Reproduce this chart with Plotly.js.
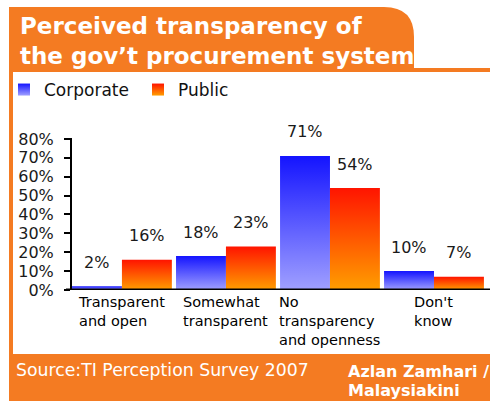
<!DOCTYPE html>
<html><head><meta charset="utf-8">
<script src="https://cdn.plot.ly/plotly-3.0.1.min.js"></script>
<style>html,body{margin:0;padding:0;background:#fff;} #chart{width:490px;height:401px;}</style>
</head><body><div id="chart"></div>
<script>
const categories = ["Transparent<br>and open", "Somewhat<br>transparent", "No<br>transparency<br>and openness", "Don't<br>know"];
const corporate = [2, 18, 71, 10];
const publicShare = [16, 23, 54, 7];
const seriesNames = ["Corporate", "Public"];
const tickValues = [0, 10, 20, 30, 40, 50, 60, 70, 80];
const tickLabels = ["0%", "10%", "20%", "30%", "40%", "50%", "60%", "70%", "80%"];
const titleText = "Perceived transparency of<br>the gov’t procurement system";
const sourceText = "Source:TI Perception Survey 2007";
const creditLines = ["Azlan Zamhari /", "Malaysiakini"];

const L = 72, T = 138, W = 414, H = 152;
const px = x => (x - L) / W;
const py = y => (T + H - y) / H;
const ORANGE = '#f47b22';
const FONT = 'DejaVu Sans, Verdana, sans-serif';
const BARGAP = 0.04;
const half = (1 - BARGAP) / 4;

const traces = [
  {type: 'bar', name: seriesNames[0], x: categories, y: corporate, marker: {color: '#4a4aff', line: {width: 0}}, hoverinfo: 'none'},
  {type: 'bar', name: seriesNames[1], x: categories, y: publicShare, marker: {color: '#ff5a00', line: {width: 0}}, hoverinfo: 'none'}
];

const labelFont = {family: FONT, size: 16, color: '#1a1a1a'};
const annotations = [];
corporate.forEach((v, i) => annotations.push({x: i - half, y: v, xref: 'x', yref: 'y', text: v + '%', showarrow: false, yanchor: 'middle', yshift: 24, font: labelFont}));
publicShare.forEach((v, i) => annotations.push({x: i + half, y: v, xref: 'x', yref: 'y', text: v + '%', showarrow: false, yanchor: 'middle', yshift: 24, font: labelFont}));
categories.forEach((c, i) => annotations.push({x: i, y: 0, xref: 'x', yref: 'y', text: c, showarrow: false, xanchor: 'center', yanchor: 'top', align: 'left', yshift: -2, font: {family: FONT, size: 14.5, color: '#000'}}));
annotations.push({x: px(14), y: py(370), xref: 'paper', yref: 'paper', text: sourceText, showarrow: false, xanchor: 'left', yanchor: 'middle', font: {family: FONT, size: 17.3, color: '#fff'}});
creditLines.forEach((t, i) => annotations.push({x: px(346), y: py(371 + i * 19), xref: 'paper', yref: 'paper', text: t, showarrow: false, xanchor: 'left', yanchor: 'middle', font: {family: FONT, size: 16, color: '#fff', weight: 'bold'}}));

const shapes = [
  {type: 'rect', xref: 'paper', yref: 'paper', x0: px(9), x1: px(500), y0: py(68), y1: py(405), fillcolor: ORANGE, line: {width: 0}, layer: 'below'},
  {type: 'rect', xref: 'paper', yref: 'paper', x0: px(13), x1: px(500), y0: py(72), y1: py(354), fillcolor: '#fff', line: {width: 0}, layer: 'below'},
  {type: 'path', xref: 'paper', yref: 'paper', layer: 'below', fillcolor: ORANGE, line: {width: 0},
   path: `M${px(9)},${py(7)} L${px(384)},${py(7)} Q${px(414)},${py(7)} ${px(414)},${py(37)} L${px(414)},${py(70)} L${px(9)},${py(70)} Z`},
  {type: 'line', xref: 'paper', yref: 'y', x0: px(66), x1: px(500), y0: 0, y1: 0, line: {color: '#000', width: 3}, layer: 'above'}
];

const layout = {
  width: 490, height: 401,
  margin: {l: L, r: 490 - L - W, t: T, b: 401 - T - H, pad: 0},
  paper_bgcolor: '#fff', plot_bgcolor: 'rgba(0,0,0,0)',
  barmode: 'group', bargap: BARGAP, bargroupgap: 0,
  title: {text: titleText, xref: 'container', yref: 'container', x: 20 / 490, xanchor: 'left', y: 1 - 34 / 401, yanchor: 'top',
          font: {family: FONT, size: 23, color: '#fff', weight: 'bold'}},
  showlegend: true,
  legend: {orientation: 'h', x: px(4), y: py(72), xanchor: 'left', yanchor: 'top', entrywidth: 89, entrywidthmode: 'pixels',
           font: {family: FONT, size: 17, color: '#111'}, bgcolor: 'rgba(0,0,0,0)', itemclick: false},
  xaxis: {type: 'category', range: [-0.48, 3.5], showticklabels: false, ticks: '', showline: false, showgrid: false, zeroline: false, fixedrange: true},
  yaxis: {range: [0, 80.5], tickvals: tickValues, ticktext: tickLabels, ticks: 'outside', ticklen: 6, tickwidth: 2, tickcolor: '#000',
          showline: true, linewidth: 2, linecolor: '#000', showgrid: false, zeroline: false, ticklabelstandoff: 7,
          tickfont: {family: FONT, size: 16, color: '#1a1a1a'}, fixedrange: true},
  shapes: shapes, annotations: annotations
};

Plotly.newPlot('chart', traces, layout, {displayModeBar: false, staticPlot: true}).then(gd => {
  const svg = gd.querySelector('.main-svg');
  let defs = svg.querySelector('defs');
  const ns = 'http://www.w3.org/2000/svg';
  const mk = (id, c0, c1) => {
    const g = document.createElementNS(ns, 'linearGradient');
    g.setAttribute('id', id); g.setAttribute('x1', '0'); g.setAttribute('y1', '0'); g.setAttribute('x2', '0'); g.setAttribute('y2', '1');
    [[0, c0], [1, c1]].forEach(([o, c]) => { const s = document.createElementNS(ns, 'stop'); s.setAttribute('offset', o); s.setAttribute('stop-color', c); g.appendChild(s); });
    defs.appendChild(g);
  };
  mk('gBlue', '#1414ff', '#a0a0ff');
  mk('gOrange', '#ff1400', '#ff9e00');
  const ids = ['gBlue', 'gOrange'];
  gd.querySelectorAll('.barlayer .trace').forEach((t, i) => t.querySelectorAll('path').forEach(p => p.style.fill = `url(#${ids[i]})`));
  gd.querySelectorAll('.legend .traces').forEach((t, i) => t.querySelectorAll('.legendpoints path').forEach(p => p.style.fill = `url(#${ids[i]})`));
});
</script>
</body></html>
